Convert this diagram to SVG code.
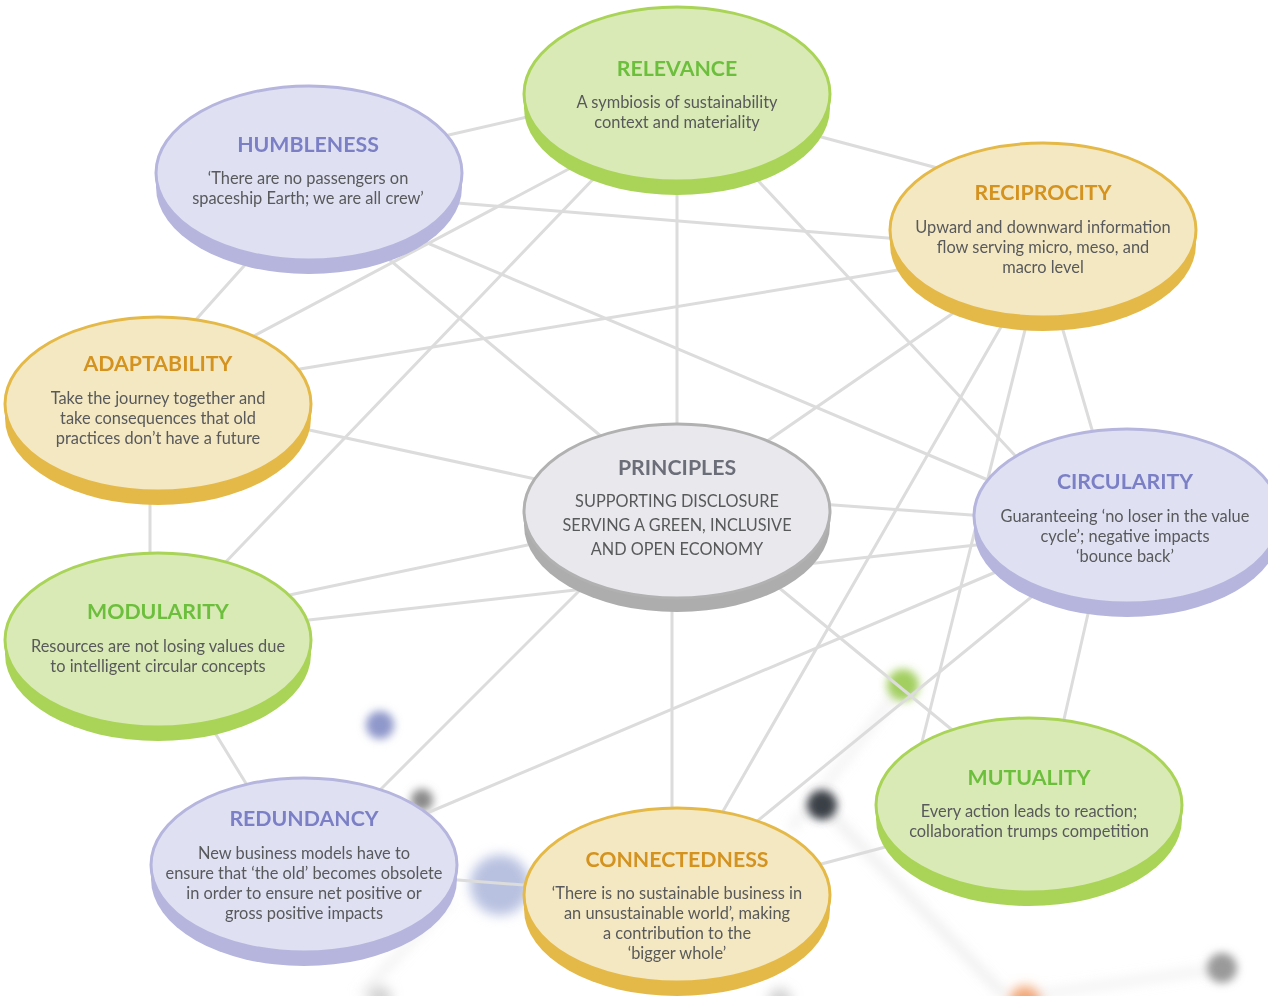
<svg xmlns="http://www.w3.org/2000/svg" width="1268" height="996" viewBox="0 0 1268 996">
<defs>
<style>
.bg{fill:#ffffff}
.lk line{stroke:#dcdcdc;stroke-width:3;stroke-linecap:round}
.t{font-family:Lato,"Open Sans","Liberation Sans",sans-serif;text-anchor:middle}
.h{font-size:21.3px;font-weight:700}
.b{font-size:16.4px;fill:#58595b}
.bu{font-size:16.3px;fill:#58595b}
.g .s{fill:#a9d457}.g .f{fill:#d9eab6;stroke:#a9d457;stroke-width:3}.g .h{fill:#6cbf3c}
.p .s{fill:#b5b5de}.p .f{fill:#dfe0f2;stroke:#b5b5de;stroke-width:3}.p .h{fill:#7b80c6}
.y .s{fill:#e4b948}.y .f{fill:#f4e8c2;stroke:#e4b948;stroke-width:3}.y .h{fill:#d4921f}
.k .s{fill:#adadad}.k .f{fill:#e9e9ed;stroke:#b1b1b1;stroke-width:3}.k .h{fill:#6b6e78}
</style>
<filter id="blur" x="-50%" y="-50%" width="200%" height="200%"><feGaussianBlur stdDeviation="6"/></filter>
<filter id="blur2" x="-80%" y="-80%" width="260%" height="260%"><feGaussianBlur stdDeviation="4.5"/></filter>
</defs>
<rect class="bg" x="0" y="0" width="1268" height="996"/>
<g id="background" filter="url(#blur)">
<line x1="822" y1="805" x2="1005" y2="996" stroke="#d4d4d4" stroke-width="8" opacity="0.45"/>
<line x1="903" y1="685" x2="790" y2="830" stroke="#d8d8d8" stroke-width="8" opacity="0.35"/>
<line x1="1222" y1="968" x2="1030" y2="996" stroke="#d8d8d8" stroke-width="8" opacity="0.35"/>
<line x1="450" y1="900" x2="360" y2="996" stroke="#d8d8d8" stroke-width="8" opacity="0.35"/>
<circle cx="500" cy="885" r="30" fill="#b8c1e0"/>
<circle cx="380" cy="998" r="12" fill="#aaaaaa" opacity="0.5"/>
<circle cx="780" cy="1000" r="12" fill="#aaaaaa" opacity="0.5"/>
<circle cx="1025" cy="1002" r="16" fill="#f2a575"/>
</g>
<g id="background-dots" filter="url(#blur2)">
<circle cx="380" cy="725" r="14" fill="#8f98ca"/>
<circle cx="422" cy="800" r="11" fill="#8a8a8a"/>
<circle cx="903" cy="685" r="16" fill="#a2cf60"/>
<circle cx="822" cy="805" r="15" fill="#3a3f47"/>
<circle cx="1222" cy="968" r="15" fill="#9a9a9a"/>
</g>
<g id="connectors" class="lk">
<line x1="440" y1="137" x2="540" y2="114"/>
<line x1="810" y1="134" x2="945" y2="170"/>
<line x1="445" y1="202" x2="900" y2="239"/>
<line x1="252" y1="257" x2="192" y2="324"/>
<line x1="580" y1="163" x2="250" y2="338"/>
<line x1="600" y1="172" x2="220" y2="568"/>
<line x1="677" y1="180" x2="677" y2="430"/>
<line x1="750" y1="172" x2="1023" y2="464"/>
<line x1="385" y1="256" x2="608" y2="442"/>
<line x1="418" y1="239" x2="995" y2="483"/>
<line x1="300" y1="369" x2="910" y2="268"/>
<line x1="300" y1="428" x2="540" y2="480"/>
<line x1="150" y1="495" x2="150" y2="560"/>
<line x1="962" y1="307" x2="760" y2="446"/>
<line x1="1060" y1="320" x2="1095" y2="440"/>
<line x1="1005" y1="320" x2="718" y2="820"/>
<line x1="1027" y1="322" x2="920" y2="750"/>
<line x1="820" y1="504" x2="985" y2="516"/>
<line x1="300" y1="621" x2="985" y2="544"/>
<line x1="280" y1="597" x2="537" y2="543"/>
<line x1="585" y1="585" x2="372" y2="798"/>
<line x1="672" y1="600" x2="672" y2="815"/>
<line x1="772" y1="582" x2="962" y2="738"/>
<line x1="1010" y1="566" x2="420" y2="816"/>
<line x1="1040" y1="590" x2="750" y2="827"/>
<line x1="1090" y1="605" x2="1062" y2="728"/>
<line x1="893" y1="845" x2="810" y2="867"/>
<line x1="445" y1="879" x2="537" y2="886"/>
<line x1="212" y1="728" x2="250" y2="790"/>
</g>
<g id="relevance" class="g">
<ellipse class="s" cx="677" cy="108" rx="153" ry="87"/>
<ellipse class="f" cx="677" cy="94" rx="153" ry="87"/>
<text class="t h" x="677" y="76">RELEVANCE</text>
<text class="t b" x="677" y="108">A symbiosis of sustainability</text>
<text class="t b" x="677" y="128">context and materiality</text>
</g>
<g id="humbleness" class="p">
<ellipse class="s" cx="309" cy="187" rx="153" ry="87"/>
<ellipse class="f" cx="309" cy="173" rx="153" ry="87"/>
<text class="t h" x="308" y="152">HUMBLENESS</text>
<text class="t b" x="308" y="184">‘There are no passengers on</text>
<text class="t b" x="308" y="204">spaceship Earth; we are all crew’</text>
</g>
<g id="reciprocity" class="y">
<ellipse class="s" cx="1043" cy="244" rx="153" ry="87"/>
<ellipse class="f" cx="1043" cy="230" rx="153" ry="87"/>
<text class="t h" x="1043" y="200">RECIPROCITY</text>
<text class="t b" x="1043" y="233">Upward and downward information</text>
<text class="t b" x="1043" y="253">flow serving micro, meso, and</text>
<text class="t b" x="1043" y="273">macro level</text>
</g>
<g id="adaptability" class="y">
<ellipse class="s" cx="158" cy="418" rx="153" ry="87"/>
<ellipse class="f" cx="158" cy="404" rx="153" ry="87"/>
<text class="t h" x="158" y="371">ADAPTABILITY</text>
<text class="t b" x="158" y="404">Take the journey together and</text>
<text class="t b" x="158" y="424">take consequences that old</text>
<text class="t b" x="158" y="444">practices don’t have a future</text>
</g>
<g id="principles" class="k">
<ellipse class="s" cx="677" cy="525" rx="153" ry="87"/>
<ellipse class="f" cx="677" cy="511" rx="153" ry="87"/>
<text class="t h" x="677" y="475">PRINCIPLES</text>
<text class="t bu" x="677" y="507">SUPPORTING DISCLOSURE</text>
<text class="t bu" x="677" y="531">SERVING A GREEN, INCLUSIVE</text>
<text class="t bu" x="677" y="555">AND OPEN ECONOMY</text>
</g>
<g id="circularity" class="p">
<ellipse class="s" cx="1127" cy="530" rx="153" ry="87"/>
<ellipse class="f" cx="1127" cy="516" rx="153" ry="87"/>
<text class="t h" x="1125" y="489">CIRCULARITY</text>
<text class="t b" x="1125" y="522">Guaranteeing ‘no loser in the value</text>
<text class="t b" x="1125" y="542">cycle’; negative impacts</text>
<text class="t b" x="1125" y="562">‘bounce back’</text>
</g>
<g id="modularity" class="g">
<ellipse class="s" cx="158" cy="654" rx="153" ry="87"/>
<ellipse class="f" cx="158" cy="640" rx="153" ry="87"/>
<text class="t h" x="158" y="619">MODULARITY</text>
<text class="t b" x="158" y="652">Resources are not losing values due</text>
<text class="t b" x="158" y="672">to intelligent circular concepts</text>
</g>
<g id="redundancy" class="p">
<ellipse class="s" cx="304" cy="879" rx="153" ry="87"/>
<ellipse class="f" cx="304" cy="865" rx="153" ry="87"/>
<text class="t h" x="304" y="826">REDUNDANCY</text>
<text class="t b" x="304" y="859">New business models have to</text>
<text class="t b" x="304" y="879">ensure that ‘the old’ becomes obsolete</text>
<text class="t b" x="304" y="899">in order to ensure net positive or</text>
<text class="t b" x="304" y="919">gross positive impacts</text>
</g>
<g id="connectedness" class="y">
<ellipse class="s" cx="677" cy="909" rx="153" ry="87"/>
<ellipse class="f" cx="677" cy="895" rx="153" ry="87"/>
<text class="t h" x="677" y="867">CONNECTEDNESS</text>
<text class="t b" x="677" y="899">‘There is no sustainable business in</text>
<text class="t b" x="677" y="919">an unsustainable world’, making</text>
<text class="t b" x="677" y="939">a contribution to the</text>
<text class="t b" x="677" y="959">‘bigger whole’</text>
</g>
<g id="mutuality" class="g">
<ellipse class="s" cx="1029" cy="819" rx="153" ry="87"/>
<ellipse class="f" cx="1029" cy="805" rx="153" ry="87"/>
<text class="t h" x="1029" y="785">MUTUALITY</text>
<text class="t b" x="1029" y="817">Every action leads to reaction;</text>
<text class="t b" x="1029" y="837">collaboration trumps competition</text>
</g>
</svg>
